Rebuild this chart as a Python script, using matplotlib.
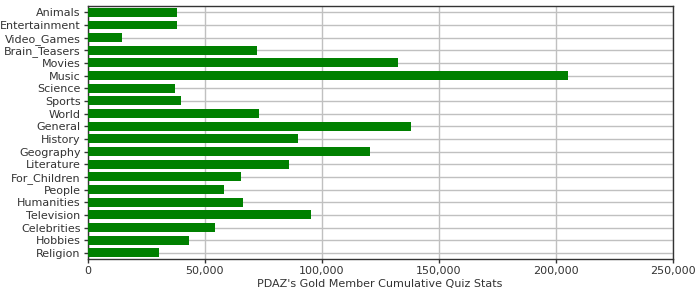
import matplotlib
matplotlib.use("Agg")
import matplotlib.pyplot as plt
from matplotlib.ticker import FuncFormatter

categories = ["Animals", "Entertainment", "Video_Games", "Brain_Teasers", "Movies",
              "Music", "Science", "Sports", "World", "General", "History", "Geography",
              "Literature", "For_Children", "People", "Humanities", "Television",
              "Celebrities", "Hobbies", "Religion"]
values = [38300, 38200, 14700, 72400, 132700, 205300, 37400, 40000, 73300, 138200,
          90000, 120700, 86100, 65600, 58300, 66500, 95500, 54500, 43400, 30600]
x_ticks = [0, 50000, 100000, 150000, 200000, 250000]
x_label = "PDAZ's Gold Member Cumulative Quiz Stats"

fig = plt.figure(figsize=(7, 3), dpi=100)
ax = fig.add_axes([87.5/700, 1-259.3/300, (672.5-87.5)/700, (259.3-6)/300])
pos = list(range(len(categories)))
ax.barh(pos, values, height=0.71, color="#008000", zorder=3)
ax.set_ylim(len(categories)-0.5, -0.5)
ax.set_xlim(0, 250000)
ax.set_yticks(pos)
ax.set_yticklabels(categories)
ax.set_xticks(x_ticks)
ax.xaxis.set_major_formatter(FuncFormatter(lambda v, p: f"{int(v):,}"))
ax.grid(True, color="#c0c0c0", linewidth=1, zorder=0)
ax.set_axisbelow(True)
for s in ax.spines.values():
    s.set_color("#333333")
    s.set_linewidth(1)
ax.tick_params(axis="both", labelsize=8, colors="#333333", length=3, width=1, pad=2)
ax.set_xlabel(x_label, fontsize=8, color="#333333", labelpad=2)
fig.savefig("out.png", dpi=100)
